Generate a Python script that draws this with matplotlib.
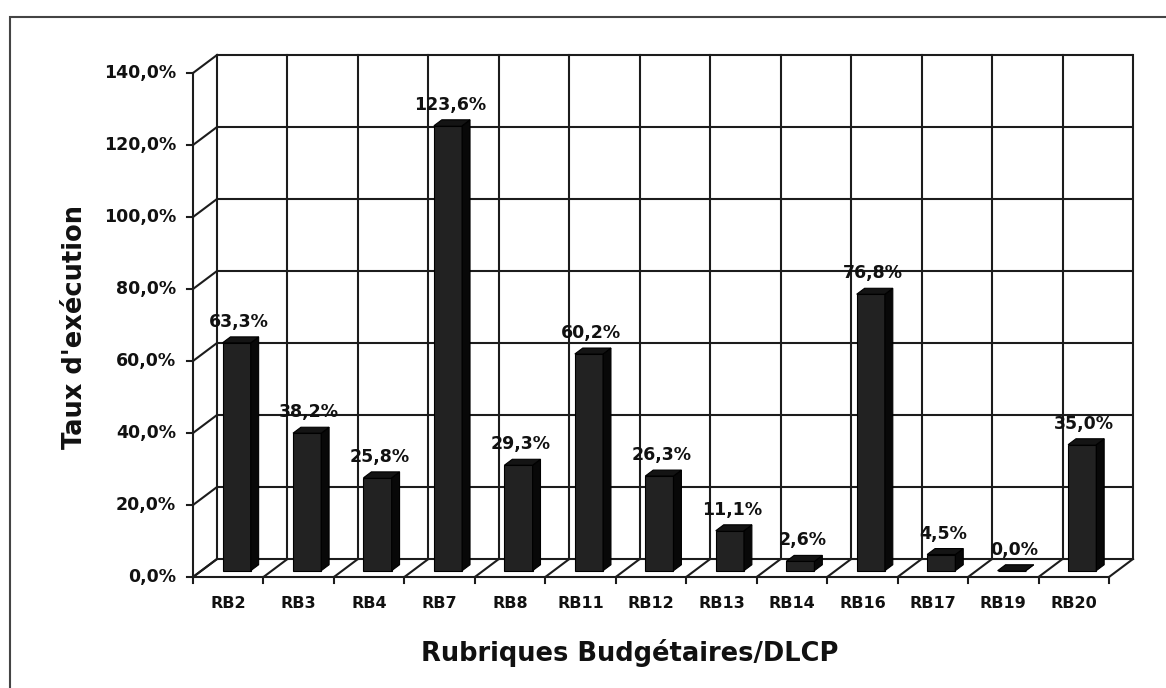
import matplotlib
matplotlib.use("Agg")
import matplotlib.pyplot as plt
from matplotlib.patches import Polygon, Rectangle

categories = ["RB2", "RB3", "RB4", "RB7", "RB8", "RB11", "RB12", "RB13",
              "RB14", "RB16", "RB17", "RB19", "RB20"]
values = [63.3, 38.2, 25.8, 123.6, 29.3, 60.2, 26.3, 11.1, 2.6, 76.8, 4.5, 0.0, 35.0]
yticks = [0, 20, 40, 60, 80, 100, 120, 140]
ytick_labels = ["0,0%", "20,0%", "40,0%", "60,0%", "80,0%", "100,0%", "120,0%", "140,0%"]
value_labels = ["63,3%", "38,2%", "25,8%", "123,6%", "29,3%", "60,2%", "26,3%",
                "11,1%", "2,6%", "76,8%", "4,5%", "0,0%", "35,0%"]
xlabel = "Rubriques Budgétaires/DLCP"
ylabel = "Taux d'exécution"

plt.rcParams['font.family'] = ['DejaVu Sans']

W, H = 1166, 688
fig = plt.figure(figsize=(W / 100, H / 100), dpi=100)
ax = fig.add_axes([0, 0, 1, 1])

# pixel geometry of the plot (front axis origin, scales)
px_x0, px_y0 = 193, 577
px_per_cat = 916 / 13
px_per_pct = 504 / 140
ax.set_xlim(-px_x0 / px_per_cat, (W - px_x0) / px_per_cat)
ax.set_ylim(-(H - px_y0) / px_per_pct, px_y0 / px_per_pct)
ax.axis('off')

n = len(categories)
ymax = yticks[-1]
DX = 24 / px_per_cat             # depth offset in x data units
DY = 18 / px_per_pct             # depth offset in y data units
grid_c = "#1c1c1c"
glw = 1.5
txt_c = "#111111"
tx = 6 / px_per_cat
ty = 6 / px_per_pct

# back wall grid
for v in yticks:
    ax.plot([DX, n + DX], [v + DY, v + DY], color=grid_c, lw=glw, solid_capstyle='butt')
for i in range(n + 1):
    ax.plot([i + DX, i + DX], [DY, ymax + DY], color=grid_c, lw=glw)

# side wall: front vertical axis and diagonals
ax.plot([0, 0], [0, ymax], color=grid_c, lw=glw)
for v, lab in zip(yticks, ytick_labels):
    ax.plot([0, DX], [v, v + DY], color=grid_c, lw=glw)
    ax.plot([-tx, 0], [v, v], color=grid_c, lw=glw)
    ax.text(-0.24, v, lab, ha='right', va='center',
            fontsize=12.5, fontweight='bold', color=txt_c)

# floor
ax.plot([0, n], [0, 0], color=grid_c, lw=glw)
for i in range(n + 1):
    ax.plot([i, i + DX], [0, DY], color=grid_c, lw=glw)
    ax.plot([i, i], [0, -ty], color=grid_c, lw=glw)

# bars
d0, dd = 0.35, 0.33
bw = 0.4
for i, v in enumerate(values):
    x0 = i + (1 - bw) / 2 + d0 * DX
    y0 = d0 * DY
    ox, oy = dd * DX, dd * DY
    front = Rectangle((x0, y0), bw, v, facecolor="#222222", edgecolor="#000000", lw=0.8, zorder=3)
    side = Polygon([(x0 + bw, y0), (x0 + bw + ox, y0 + oy), (x0 + bw + ox, y0 + oy + v),
                    (x0 + bw, y0 + v)], closed=True, facecolor="#080808",
                   edgecolor="#000000", lw=0.8, zorder=3)
    top = Polygon([(x0, y0 + v), (x0 + bw, y0 + v), (x0 + bw + ox, y0 + oy + v),
                   (x0 + ox, y0 + oy + v)], closed=True, facecolor="#141414",
                  edgecolor="#000000", lw=0.8, zorder=3)
    ax.add_patch(front)
    ax.add_patch(side)
    ax.add_patch(top)
    ax.text(x0 + bw / 2 + 2 / px_per_cat, y0 + v + 21 / px_per_pct, value_labels[i],
            ha='center', va='center', fontsize=12.5, fontweight='bold',
            color=txt_c, zorder=4)
    ax.text(i + 0.5, -27 / px_per_pct, categories[i], ha='center', va='center',
            fontsize=11.5, fontweight='bold', color=txt_c)

# axis titles
fig.text(630 / W, 1 - 653 / H, xlabel, ha='center', va='center',
         fontsize=18.5, fontweight='bold', color=txt_c)
fig.text(75 / W, 1 - 327 / H, ylabel, ha='center', va='center', rotation=90,
         fontsize=18.5, fontweight='bold', color=txt_c)

# outer chart frame (left and top edges visible)
frame = Rectangle((10 / W, -0.2), 1.5, 1.2 - 17 / H, transform=fig.transFigure,
                  fill=False, edgecolor="#444444", lw=1.5, clip_on=False)
fig.add_artist(frame)

fig.savefig("out.png", dpi=100, facecolor='white')
